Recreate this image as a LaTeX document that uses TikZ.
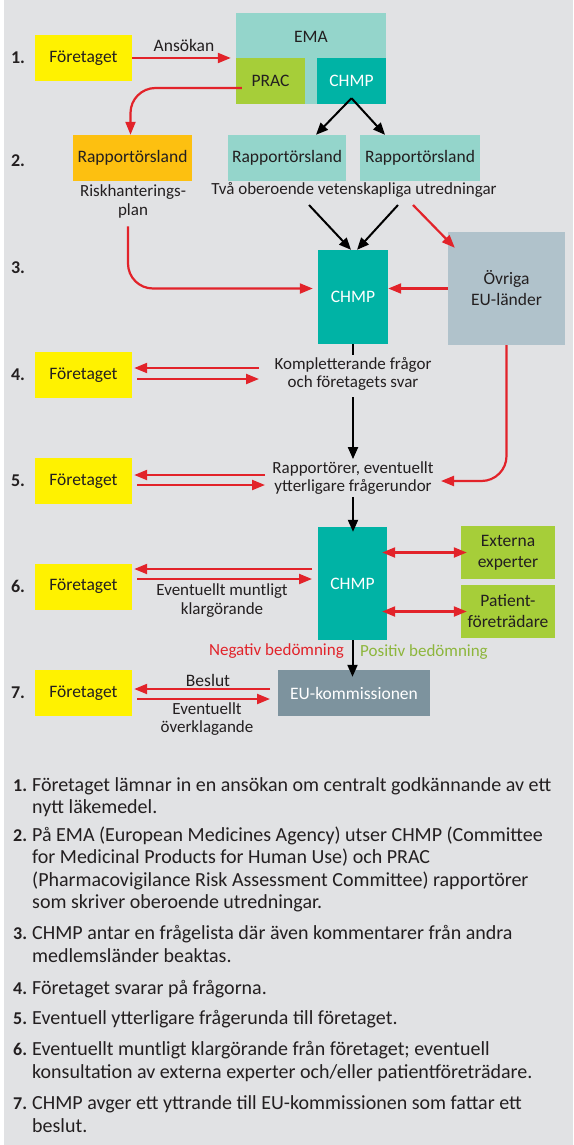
\documentclass[tikz,border=0pt]{standalone}
\usepackage{fontspec}
\setmainfont{Carlito}
\usetikzlibrary{arrows.meta}
\definecolor{bg}{HTML}{E1E2E4}
\definecolor{ink}{HTML}{231F20}
\definecolor{gul}{HTML}{FFF200}
\definecolor{rorange}{HTML}{FDC010}
\definecolor{emaljus}{HTML}{94D5CB}
\definecolor{pracgron}{HTML}{A6CE39}
\definecolor{chmpteal}{HTML}{00B3A5}
\definecolor{ovrgra}{HTML}{B0C2CB}
\definecolor{eugra}{HTML}{7D939E}
\definecolor{rod}{HTML}{E2232A}
\definecolor{posgron}{HTML}{8DB63C}
\begin{document}
\begin{tikzpicture}[x=1pt, y=-1pt, text=ink,
  box/.style={inner sep=0pt, font=\fontsize{17.5}{21}\selectfont},
  firma/.style={box, fill=gul, minimum width=97pt, minimum height=46pt},
  note/.style={inner sep=2pt, align=center, font=\fontsize{17}{18.7}\selectfont},
  num/.style={font=\fontsize{18}{19}\selectfont\bfseries},
  item/.style={anchor=north west, align=left, inner sep=0pt, font=\fontsize{20}{22.4}\selectfont},
  redarr/.style={draw=rod, line width=2.2pt, -{Triangle[length=13pt,width=10pt]}},
  redboth/.style={draw=rod, line width=2.2pt, {Triangle[length=13pt,width=10pt]}-{Triangle[length=13pt,width=10pt]}},
  blkarr/.style={draw=black, line width=2pt, -{Triangle[length=12pt,width=10pt]}}]
	\fill [white] (0,0) rectangle (573,1145);
	\fill [bg] (4,0) rectangle (573,1145);
	\useasboundingbox (0,0) rectangle (573,1145);

        % step numbers
        \node (n1) at (18,58) [num] {1.};
        \node (n2) at (18,161) [num] {2.};
        \node (n3) at (18,268) [num] {3.};
        \node (n4) at (18,375) [num] {4.};
        \node (n5) at (18,481) [num] {5.};
        \node (n6) at (18,586) [num] {6.};
        \node (n7) at (18,693) [num] {7.};

        % step 1
        \node (firma1) at (83.5,58) [firma] {Företaget};
        \node (ema) at (311,58.5) [fill=emaljus, minimum width=150pt, minimum height=91pt, inner sep=0pt] {};
        \node (emalabel) at (311,37) [box] {EMA};
        \node (prac) at (270.5,81) [box, fill=pracgron, minimum width=69pt, minimum height=46pt] {PRAC};
        \node (chmp1) at (351.5,81) [box, fill=chmpteal, text=white, minimum width=69pt, minimum height=46pt] {CHMP};
        \draw [redarr, shorten >=5pt] (firma1.east) -- (firma1.east -| ema.west)
          node [midway, above=5pt, box] (ansokan) {Ansökan};

        % step 2
        \node (rapp0) at (132.5,158) [box, fill=rorange, minimum width=119pt, minimum height=46pt] {Rapportörsland};
        \node (rapp1) at (287,158) [box, fill=emaljus, minimum width=118pt, minimum height=46pt] {Rapportörsland};
        \node (rapp2) at (420,158) [box, fill=emaljus, minimum width=120pt, minimum height=46pt] {Rapportörsland};
        \node (risk) at (133,201.5) [note] {Riskhanterings-\\plan};
        \node (tva) at (354,190) [note] {Två oberoende vetenskapliga utredningar};
        \draw [redarr, rounded corners=25pt] ([shift={(6pt,-7pt)}]prac.west) -| ([xshift=-2pt]rapp0.north);
        \draw [blkarr] ([yshift=6pt]chmp1.south) -- ([xshift=29pt]rapp1.north);
        \draw [blkarr] ([yshift=6pt]chmp1.south) -- ([xshift=-35pt]rapp2.north);

        % step 3
        \node (chmp2) at (353,297) [box, fill=chmpteal, text=white, minimum width=70pt, minimum height=94pt] {CHMP};
        \node (ovriga) at (506.5,288.5) [box, fill=ovrgra, minimum width=117pt, minimum height=113pt, align=center] {Övriga\\EU-länder};
        \coordinate (t1) at (309,205);
        \coordinate (t2) at (398,205);
        \coordinate (t3) at (413,205);
        \draw [blkarr] (t1) -- ([xshift=-2pt]chmp2.north);
        \draw [blkarr] (t2) -- ([xshift=4pt]chmp2.north);
        \draw [redarr] (t3) -- ([shift={(7pt,-16pt)}]ovriga.north west);
        \draw [redarr, rounded corners=25pt, shorten <=6pt, shorten >=5pt] ([xshift=-5pt]risk.south) |- (chmp2.west |- ovriga.west);
        \draw [redarr] (ovriga.west) -- (chmp2.east |- ovriga.west);

        % step 4
        \node (firma4) at (83.5,375) [firma] {Företaget};
        \node (komp) at (353,374) [note] {Kompletterande frågor\\och företagets svar};
        \coordinate (f4) at ([yshift=1.5pt]firma4.east);
        \coordinate (k4) at (259,373.5);
        \draw [redarr] ([yshift=5.5pt]k4) -- ([shift={(2pt,5.5pt)}]f4);
        \draw [redarr] ([shift={(5pt,-5.5pt)}]f4) -- ([yshift=-5.5pt]k4);
        \draw [line width=2pt] (chmp2.south) -- (komp.north);

        % step 5
        \node (firma5) at (83.5,481) [firma] {Företaget};
        \node (rapport) at (353,478) [note] {Rapportörer, eventuellt\\ytterligare frågerundor};
        \coordinate (f5) at ([yshift=1pt]firma5.east);
        \coordinate (k5) at (265,480);
        \draw [redarr] ([yshift=5pt]k5) -- ([shift={(2pt,5pt)}]f5);
        \draw [redarr] ([shift={(5pt,-5pt)}]f5) -- ([yshift=-5pt]k5);
        \draw [blkarr, shorten <=4pt] (komp.south) -- (rapport.north);
        \coordinate (k5b) at (441,481);
        \draw [redarr, rounded corners=25pt] (ovriga.south) |- (k5b);

        % step 6
        \node (chmp3) at (352.5,583.5) [box, fill=chmpteal, text=white, minimum width=69pt, minimum height=113pt] {CHMP};
        \node (externa) at (508,552.5) [box, fill=pracgron, minimum width=94pt, minimum height=53pt, align=center] {Externa\\experter};
        \node (patient) at (508,611.5) [box, fill=pracgron, minimum width=94pt, minimum height=53pt, align=center] {Patient-\\företrädare};
        \node (firma6) at (83.5,586.5) [firma] {Företaget};
        \node (munt) at (222,600.5) [note] {Eventuellt muntligt\\klargörande};
        \coordinate (f6) at ([yshift=12.5pt]firma6.east);
        \coordinate (k6) at (312,574);
        \draw [redarr] ([yshift=5pt]k6) -- ([shift={(2pt,5pt)}]f6);
        \draw [redarr] ([shift={(5pt,-5pt)}]f6) -- ([yshift=-5pt]k6);
        \draw [blkarr, shorten >=-5pt] (rapport.south) -- (rapport.south |- chmp3.north);
        \draw [redboth, shorten <=-5pt, shorten >=-6pt] (chmp3.east |- externa.west) -- (externa.west);
        \draw [redboth, shorten <=-5pt, shorten >=-6pt] (chmp3.east |- patient.west) -- (patient.west);
        \node (neg) at (346,651) [note, anchor=east, text=rod] {Negativ bedömning};
        \node (pos) at (358,652) [note, anchor=west, text=posgron] {Positiv bedömning};

        % step 7
        \node (eu) at (354,693) [box, fill=eugra, text=white, minimum width=152pt, minimum height=46pt] {EU-kommissionen};
        \node (firma7) at (83.5,693) [firma] {Företaget};
        \node (beslut) at (208,680) [box] {Beslut};
        \node (overkl) at (207,719) [note] {Eventuellt\\överklagande};
        \coordinate (f7) at ([yshift=-1pt]firma7.east);
        \coordinate (k7) at (270,694);
        \draw [redarr] ([yshift=5pt]k7) -- ([shift={(2pt,5pt)}]f7);
        \draw [redarr] ([shift={(5pt,-5pt)}]f7) -- ([yshift=-5pt]k7);
        \draw [blkarr, shorten >=-7pt] (chmp3.south) -- (chmp3.south |- eu.north);

        % explanations
        \node (item1) at (13,777.5) [item] {\makebox[19pt][l]{\fontsize{18}{19}\selectfont\bfseries 1.}Företaget lämnar in en ansökan om centralt godkännande av ett\\\hspace*{19pt}nytt läkemedel.};
        \node (item2) at (13,826.5) [item] {\makebox[19pt][l]{\fontsize{18}{19}\selectfont\bfseries 2.}På EMA (European Medicines Agency) utser CHMP (Committee\\\hspace*{19pt}for Medicinal Products for Human Use) och PRAC\\\hspace*{19pt}(Pharmacovigilance Risk Assessment Committee) rapportörer\\\hspace*{19pt}som skriver oberoende utredningar.};
        \node (item3) at (13,925.5) [item] {\makebox[19pt][l]{\fontsize{18}{19}\selectfont\bfseries 3.}CHMP antar en frågelista där även kommentarer från andra\\\hspace*{19pt}medlemsländer beaktas.};
        \node (item4) at (13,980.5) [item] {\makebox[19pt][l]{\fontsize{18}{19}\selectfont\bfseries 4.}Företaget svarar på frågorna.};
        \node (item5) at (13,1010.5) [item] {\makebox[19pt][l]{\fontsize{18}{19}\selectfont\bfseries 5.}Eventuell ytterligare frågerunda till företaget.};
        \node (item6) at (13,1041.5) [item] {\makebox[19pt][l]{\fontsize{18}{19}\selectfont\bfseries 6.}Eventuellt muntligt klargörande från företaget; eventuell\\\hspace*{19pt}konsultation av externa experter och/eller patientföreträdare.};
        \node (item7) at (13,1095.5) [item] {\makebox[19pt][l]{\fontsize{18}{19}\selectfont\bfseries 7.}CHMP avger ett yttrande till EU-kommissionen som fattar ett\\\hspace*{19pt}beslut.};
\end{tikzpicture}
\end{document}
